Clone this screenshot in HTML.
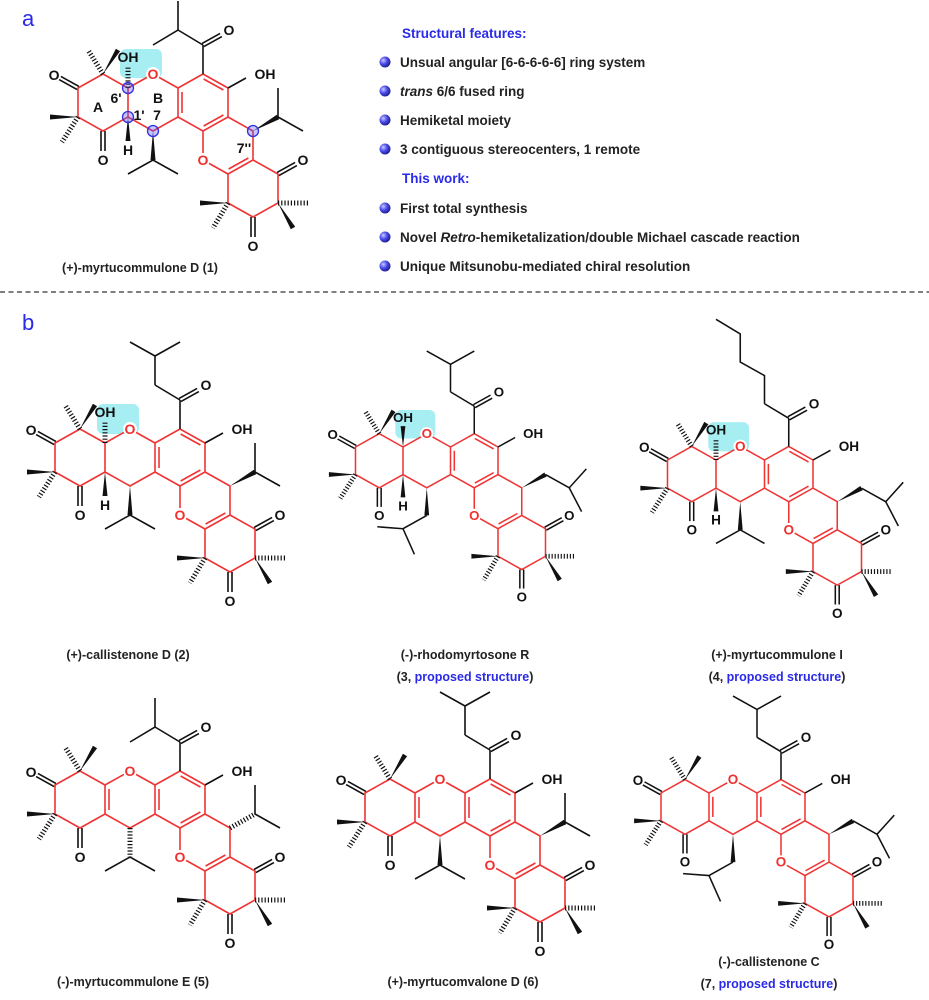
<!DOCTYPE html>
<html><head><meta charset="utf-8"><style>
html,body{margin:0;padding:0;background:#fff;}
svg{display:block;font-family:"Liberation Sans",Arial,sans-serif;}
.at{font-size:14px;font-weight:bold;fill:#111;text-anchor:middle;dominant-baseline:central;}
.ro{font-size:14px;font-weight:bold;fill:#f03030;text-anchor:middle;dominant-baseline:central;}
.cap{font-size:12.5px;font-weight:bold;fill:#222;text-anchor:middle;}
.bl{fill:#2a2ae8;}
.ft{font-size:13.5px;font-weight:bold;fill:#222;}
.hd{font-size:13.5px;font-weight:bold;fill:#2a2ae8;}
</style></head><body>
<svg width="929" height="1000" viewBox="0 0 929 1000" xmlns="http://www.w3.org/2000/svg">
<defs>
<radialGradient id="sph" cx="0.35" cy="0.35" r="0.7"><stop offset="0" stop-color="#c8c8ff"/><stop offset="0.5" stop-color="#4a4ae8"/><stop offset="1" stop-color="#1a1a90"/></radialGradient>
<g id="ringsCommon" fill="none" stroke="#f03434" stroke-width="1.6" stroke-linejoin="round">
  <polyline points="0,0 -25,-14 -50,0 -50,29 -25,43 0,29 0,0"/>
  <polyline points="0,0 25,-14 50,0 50,29 25,43 0,29"/>
  <polyline points="50,0 75,-14 100,0 100,29 75,43 50,29"/>
  <polyline points="75,43 75,72 100,86 125,72 125,43 100,29"/>
  <polyline points="100,86 100,115 125,129 150,115 150,86 125,72"/>
  <line x1="54" y1="4" x2="54" y2="25"/>
  <line x1="75.6" y1="-9" x2="95.4" y2="2"/>
  <line x1="95.4" y1="27" x2="75.6" y2="38"/>
  <line x1="100.6" y1="81" x2="120.4" y2="70"/>
</g>
<g id="subCommon" stroke="#111" stroke-width="1.6" fill="#111">
  <line x1="-49.1" y1="-1.6" x2="-67.1" y2="-11.6"/><line x1="-50.9" y1="1.6" x2="-68.9" y2="-8.4"/>
  <line x1="-27" y1="43" x2="-27" y2="63"/><line x1="-23" y1="43" x2="-23" y2="63"/>
  <line x1="150.9" y1="87.6" x2="168.9" y2="77.6"/><line x1="149.1" y1="84.4" x2="167.1" y2="74.4"/>
  <line x1="123" y1="129" x2="123" y2="149"/><line x1="127" y1="129" x2="127" y2="149"/>
  <line x1="75" y1="-14" x2="75" y2="-43"/>
  <line x1="75.9" y1="-41.4" x2="93.9" y2="-51.4"/><line x1="74.1" y1="-44.6" x2="92.1" y2="-54.6"/>
  <line x1="75" y1="-43" x2="50" y2="-58"/>
  <line x1="100" y1="0" x2="118" y2="-10"/>
  <polygon stroke="none" points="-25,-14 -7.9,-36.7 -12.1,-39.3"/>
  <line x1="-25" y1="-14" x2="-40" y2="-38" stroke-width="5" stroke-dasharray="1.2 2"/>
  <polygon stroke="none" points="-50,29 -78,26.5 -78,31.5"/>
  <line x1="-50" y1="29" x2="-66" y2="54" stroke-width="5" stroke-dasharray="1.2 2"/>
  <polygon stroke="none" points="150,115 167.2,138.7 162.8,141.3"/>
  <line x1="150" y1="115" x2="180" y2="115" stroke-width="5" stroke-dasharray="1.2 2"/>
  <polygon stroke="none" points="100,115 72,112.5 72,117.5"/>
  <line x1="100" y1="115" x2="85" y2="140" stroke-width="5" stroke-dasharray="1.2 2"/>
</g>
<g id="hemi" stroke="#111" stroke-width="1.6" fill="#111">
  <polygon stroke="none" points="0,29 -2.5,53 2.5,53"/>
</g>
<g id="wC7" fill="#111"><polygon points="25,43 22.5,72 27.5,72"/></g>
<g id="hC7"><line x1="25" y1="43" x2="25" y2="72" stroke="#111" stroke-width="5" stroke-dasharray="1.2 2"/></g>
<g id="wC7b" fill="#111"><polygon points="125,43 151.2,31.2 148.8,26.8"/></g>
<g id="hC7b"><line x1="125" y1="43" x2="150" y2="29" stroke="#111" stroke-width="5" stroke-dasharray="1.2 2"/></g>
<g id="iprC7" stroke="#111" stroke-width="1.6" fill="none"><polyline points="0,86 25,72 50,86"/></g>
<g id="ibuC7" stroke="#111" stroke-width="1.6" fill="none"><polyline points="25,72 0,86 -27,84"/><line x1="0" y1="86" x2="12" y2="113"/></g>
<g id="iprC7b" stroke="#111" stroke-width="1.6" fill="none"><polyline points="150,0 150,29 175,43"/></g>
<g id="ibuC7b" stroke="#111" stroke-width="1.6" fill="none"><polyline points="150,29 175,43 193,23"/><line x1="175" y1="43" x2="188" y2="68"/></g>
<g id="ibuAcyl" stroke="#111" stroke-width="1.6" fill="none"><polyline points="25,-43 50,-58 50,-87"/></g>
<g id="ivAcyl" stroke="#111" stroke-width="1.6" fill="none"><polyline points="50,-58 50,-87 25,-101"/><line x1="50" y1="-87" x2="75" y2="-101"/></g>
<g id="hexAcyl" stroke="#111" stroke-width="1.6" fill="none"><polyline points="50,-58 50,-87 25,-101 25,-130 0,-145"/></g>
<g id="knock" fill="#fff"><circle cx="25" cy="-14" r="7"/><circle cx="75" cy="72" r="7"/></g>
<g id="enolDB"><line x1="4" y1="4" x2="4" y2="25" stroke="#f03434" stroke-width="1.6"/></g>
</defs>

<!-- panel a -->
<text x="22" y="26" font-size="22" fill="#2a2ae8">a</text>
<line x1="0" y1="292" x2="929" y2="292" stroke="#333" stroke-width="1.2" stroke-dasharray="5 3.5"/>
<text x="22" y="330" font-size="22" fill="#2a2ae8">b</text>

<!-- molecule 1 -->
<g transform="translate(128,88)">
  <rect x="-8" y="-39" width="42" height="29" rx="6" fill="#a6eef2"/>
  <use href="#ringsCommon"/><use href="#subCommon"/><use href="#hemi"/>
  <use href="#wC7"/><use href="#iprC7"/><use href="#wC7b"/><use href="#iprC7b"/><use href="#ibuAcyl"/>
  <line x1="0" y1="0" x2="0" y2="-22" stroke="#111" stroke-width="5" stroke-dasharray="1.2 2"/>
  <use href="#knock"/>
  <g fill="rgba(90,90,255,0.35)" stroke="#3030e0" stroke-width="1.3"><circle cx="0" cy="0" r="5.5"/><circle cx="0" cy="29" r="5.5"/><circle cx="25" cy="43" r="5.5"/><circle cx="125" cy="43" r="5.5"/></g>
  <text class="ro" x="25" y="-14">O</text><text class="ro" x="75" y="72">O</text>
  <text class="at" x="-74" y="-13">O</text><text class="at" x="-25" y="72">O</text>
  <text class="at" x="175" y="72">O</text><text class="at" x="125" y="158">O</text>
  <text class="at" x="101" y="-58">O</text><text class="at" x="0" y="-31">OH</text>
  <text class="at" x="0" y="62">H</text><text class="at" x="137" y="-14">OH</text>
  <text class="at" x="-30" y="19">A</text><text class="at" x="30" y="10">B</text>
  <text class="at" x="-12" y="10" font-size="13">6'</text><text class="at" x="11" y="27" font-size="13">1'</text>
  <text class="at" x="29" y="27" font-size="13">7</text><text class="at" x="116" y="60" font-size="13">7''</text>
</g>
<text class="cap" x="140" y="272">(+)-myrtucommulone D (1)</text>

<!-- features -->
<text class="hd" x="402" y="38">Structural features:</text>
<g>
<circle cx="385" cy="62" r="5.5" fill="url(#sph)"/><text class="ft" x="400" y="67">Unsual angular [6-6-6-6-6]  ring system</text>
<circle cx="385" cy="91" r="5.5" fill="url(#sph)"/><text class="ft" x="400" y="96"><tspan font-style="italic">trans</tspan> 6/6 fused ring</text>
<circle cx="385" cy="120" r="5.5" fill="url(#sph)"/><text class="ft" x="400" y="125">Hemiketal moiety</text>
<circle cx="385" cy="149" r="5.5" fill="url(#sph)"/><text class="ft" x="400" y="154">3 contiguous stereocenters, 1 remote</text>
</g>
<text class="hd" x="402" y="183">This work:</text>
<circle cx="385" cy="208" r="5.5" fill="url(#sph)"/><text class="ft" x="400" y="213">First total synthesis</text>
<circle cx="385" cy="237" r="5.5" fill="url(#sph)"/><text class="ft" x="400" y="242">Novel <tspan font-style="italic">Retro</tspan>-hemiketalization/double Michael cascade reaction</text>
<circle cx="385" cy="266" r="5.5" fill="url(#sph)"/><text class="ft" x="400" y="271">Unique Mitsunobu-mediated chiral resolution</text>

<!-- molecule 2 -->
<g transform="translate(105,443)">
  <rect x="-8" y="-39" width="42" height="30" rx="6" fill="#a6eef2"/>
  <use href="#ringsCommon"/><use href="#subCommon"/><use href="#hemi"/>
  <use href="#wC7"/><use href="#iprC7"/><use href="#wC7b"/><use href="#iprC7b"/><use href="#ivAcyl"/>
  <line x1="0" y1="0" x2="0" y2="-22" stroke="#111" stroke-width="5" stroke-dasharray="1.2 2"/>
  <use href="#knock"/>
  <text class="ro" x="25" y="-14">O</text><text class="ro" x="75" y="72">O</text>
  <text class="at" x="-74" y="-13">O</text><text class="at" x="-25" y="72">O</text>
  <text class="at" x="175" y="72">O</text><text class="at" x="125" y="158">O</text>
  <text class="at" x="101" y="-58">O</text><text class="at" x="0" y="-31">OH</text>
  <text class="at" x="0" y="62">H</text><text class="at" x="137" y="-14">OH</text>
</g>
<text class="cap" x="128" y="659">(+)-callistenone D (2)</text>

<!-- molecule 3 -->
<g transform="translate(403,447) scale(0.95)">
  <rect x="-8" y="-39" width="42" height="30" rx="6" fill="#a6eef2"/>
  <use href="#ringsCommon"/><use href="#subCommon"/><use href="#hemi"/>
  <use href="#wC7"/><use href="#ibuC7"/><use href="#wC7b"/><use href="#ibuC7b"/><use href="#ivAcyl"/>
  <polygon points="0,0 -2.5,-22 2.5,-22" fill="#111"/>
  <use href="#knock"/>
  <text class="ro" x="25" y="-14">O</text><text class="ro" x="75" y="72">O</text>
  <text class="at" x="-74" y="-13">O</text><text class="at" x="-25" y="72">O</text>
  <text class="at" x="175" y="72">O</text><text class="at" x="125" y="158">O</text>
  <text class="at" x="101" y="-58">O</text><text class="at" x="0" y="-31">OH</text>
  <text class="at" x="0" y="62">H</text><text class="at" x="137" y="-14">OH</text>
</g>
<text class="cap" x="465" y="659">(-)-rhodomyrtosone R</text>
<text class="cap" x="465" y="681">(3, <tspan fill="#2a2ae8">proposed structure</tspan>)</text>

<!-- molecule 4 -->
<g transform="translate(716,460) scale(0.97)">
  <rect x="-8" y="-39" width="42" height="30" rx="6" fill="#a6eef2"/>
  <use href="#ringsCommon"/><use href="#subCommon"/><use href="#hemi"/>
  <use href="#wC7"/><use href="#iprC7"/><use href="#wC7b"/><use href="#ibuC7b"/><use href="#hexAcyl"/>
  <line x1="0" y1="0" x2="0" y2="-22" stroke="#111" stroke-width="5" stroke-dasharray="1.2 2"/>
  <use href="#knock"/>
  <text class="ro" x="25" y="-14">O</text><text class="ro" x="75" y="72">O</text>
  <text class="at" x="-74" y="-13">O</text><text class="at" x="-25" y="72">O</text>
  <text class="at" x="175" y="72">O</text><text class="at" x="125" y="158">O</text>
  <text class="at" x="101" y="-58">O</text><text class="at" x="0" y="-31">OH</text>
  <text class="at" x="0" y="62">H</text><text class="at" x="137" y="-14">OH</text>
</g>
<text class="cap" x="777" y="659">(+)-myrtucommulone I</text>
<text class="cap" x="777" y="681">(4, <tspan fill="#2a2ae8">proposed structure</tspan>)</text>

<!-- molecule 5 -->
<g transform="translate(105,785)">
  <use href="#ringsCommon"/><use href="#subCommon"/><use href="#enolDB"/>
  <use href="#hC7"/><use href="#iprC7"/><use href="#hC7b"/><use href="#iprC7b"/><use href="#ibuAcyl"/>
  <use href="#knock"/>
  <text class="ro" x="25" y="-14">O</text><text class="ro" x="75" y="72">O</text>
  <text class="at" x="-74" y="-13">O</text><text class="at" x="-25" y="72">O</text>
  <text class="at" x="175" y="72">O</text><text class="at" x="125" y="158">O</text>
  <text class="at" x="101" y="-58">O</text><text class="at" x="137" y="-14">OH</text>
</g>
<text class="cap" x="133" y="986">(-)-myrtucommulone E (5)</text>

<!-- molecule 6 -->
<g transform="translate(415,793)">
  <use href="#ringsCommon"/><use href="#subCommon"/><use href="#enolDB"/>
  <use href="#wC7"/><use href="#iprC7"/><use href="#wC7b"/><use href="#iprC7b"/><use href="#ivAcyl"/>
  <use href="#knock"/>
  <text class="ro" x="25" y="-14">O</text><text class="ro" x="75" y="72">O</text>
  <text class="at" x="-74" y="-13">O</text><text class="at" x="-25" y="72">O</text>
  <text class="at" x="175" y="72">O</text><text class="at" x="125" y="158">O</text>
  <text class="at" x="101" y="-58">O</text><text class="at" x="137" y="-14">OH</text>
</g>
<text class="cap" x="463" y="986">(+)-myrtucomvalone D (6)</text>

<!-- molecule 7 -->
<g transform="translate(709,793) scale(0.96)">
  <use href="#ringsCommon"/><use href="#subCommon"/><use href="#enolDB"/>
  <use href="#wC7"/><use href="#ibuC7"/><use href="#wC7b"/><use href="#ibuC7b"/><use href="#ivAcyl"/>
  <use href="#knock"/>
  <text class="ro" x="25" y="-14">O</text><text class="ro" x="75" y="72">O</text>
  <text class="at" x="-74" y="-13">O</text><text class="at" x="-25" y="72">O</text>
  <text class="at" x="175" y="72">O</text><text class="at" x="125" y="158">O</text>
  <text class="at" x="101" y="-58">O</text><text class="at" x="137" y="-14">OH</text>
</g>
<text class="cap" x="769" y="966">(-)-callistenone C</text>
<text class="cap" x="769" y="988">(7, <tspan fill="#2a2ae8">proposed structure</tspan>)</text>
</svg>
</body></html>
